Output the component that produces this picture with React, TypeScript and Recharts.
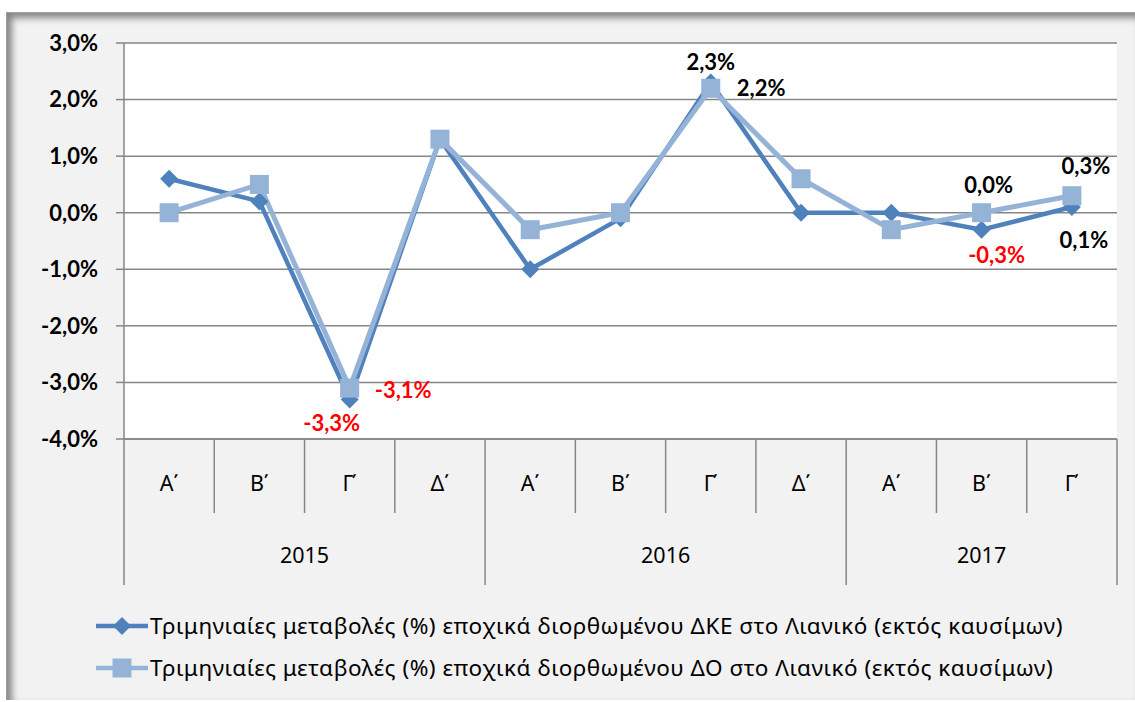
import React from 'react';
import { LineChart, Line, XAxis, YAxis, CartesianGrid, LabelList } from 'recharts';

// ---------- DATA ----------
const quarters = ['Α΄', 'Β΄', 'Γ΄', 'Δ΄', 'Α΄', 'Β΄', 'Γ΄', 'Δ΄', 'Α΄', 'Β΄', 'Γ΄'];
const quarterYear = ['2015', '2015', '2015', '2015', '2016', '2016', '2016', '2016', '2017', '2017', '2017'];
const dkeValues = [0.6, 0.2, -3.3, 1.3, -1.0, -0.1, 2.3, 0.0, 0.0, -0.3, 0.1];
const doValues = [0.0, 0.5, -3.1, 1.3, -0.3, 0.0, 2.2, 0.6, -0.3, 0.0, 0.3];
const yTicks = [-4, -3, -2, -1, 0, 1, 2, 3];
const seriesNames = [
  'Τριμηνιαίες μεταβολές (%) εποχικά διορθωμένου ΔΚΕ στο Λιανικό (εκτός καυσίμων)',
  'Τριμηνιαίες μεταβολές (%) εποχικά διορθωμένου ΔΟ στο Λιανικό (εκτός καυσίμων)',
];
const dkeLabelled = [2, 6, 9, 10];
const doLabelled = [2, 6, 9, 10];

// ---------- LAYOUT / STYLE ----------
const W = 1135;
const H = 702;
const PLOT_LEFT = 124;
const PLOT_RIGHT = 1117;
const PLOT_TOP = 43;
const PLOT_BOTTOM = 439;
const BW = (PLOT_RIGHT - PLOT_LEFT) / quarters.length;
const GRID = '#868686';
const DARK = '#4F81BD';
const LIGHT = '#95B3D7';
const NUMFONT = 'Lato, "Open Sans", sans-serif';
const TXTFONT = '"Noto Sans", "Open Sans", sans-serif';

// label offsets (dx, dy, anchor) per index for each series
const dkeLabelStyle: Record<number, [number, number, string]> = {
  2: [-18, 32, 'middle'],
  6: [0, -13, 'middle'],
  9: [15, 33, 'middle'],
  10: [12, 41, 'middle'],
};
const doLabelStyle: Record<number, [number, number, string]> = {
  2: [25, 10, 'start'],
  6: [26, 8, 'start'],
  9: [7, -20, 'middle'],
  10: [14, -22, 'middle'],
};

const data = quarters.map((q, i) => ({
  key: `${quarterYear[i]}-${q}`,
  q,
  dke: dkeValues[i],
  do: doValues[i],
}));

const fmt = (v: number) => v.toFixed(1).replace('.', ',') + '%';

const Diamond = (props: any) => {
  const { cx, cy } = props;
  if (cx == null || cy == null) return null;
  const r = 9;
  return <path d={`M${cx},${cy - r}L${cx + r},${cy}L${cx},${cy + r}L${cx - r},${cy}Z`} fill={DARK} />;
};
const Square = (props: any) => {
  const { cx, cy } = props;
  if (cx == null || cy == null) return null;
  const r = 9.5;
  return <rect x={cx - r} y={cy - r} width={2 * r} height={2 * r} fill={LIGHT} />;
};

const makeLabel = (labelled: number[], styles: Record<number, [number, number, string]>) => (props: any) => {
  const { x, y, value, index } = props;
  if (!labelled.includes(index)) return null;
  const [dx, dy, anchor] = styles[index] || [0, -15, 'middle'];
  return (
    <text
      x={x + dx}
      y={y + dy}
      textAnchor={anchor as any}
      fontFamily={NUMFONT}
      fontWeight={700}
      fontSize={22}
      fill={value < 0 ? '#FF0000' : '#000000'}
    >
      {fmt(value)}
    </text>
  );
};

const CatTick = (props: any) => {
  const { x, payload } = props;
  const i = payload.index;
  const left = x - BW / 2;
  const yearStart = i === 0 || quarterYear[i] !== quarterYear[i - 1];
  const last = i === quarters.length - 1;
  const count = quarterYear.filter((y) => y === quarterYear[i]).length;
  return (
    <g>
      <line x1={left} x2={left} y1={PLOT_BOTTOM} y2={yearStart ? 585 : 513} stroke={GRID} strokeWidth={1.5} />
      {last && <line x1={x + BW / 2} x2={x + BW / 2} y1={PLOT_BOTTOM} y2={585} stroke={GRID} strokeWidth={1.5} />}
      <text x={x} y={491} textAnchor="middle" fontFamily={TXTFONT} fontSize={21.5} fill="#000">
        {quarters[i]}
      </text>
      {yearStart && (
        <text x={left + (count * BW) / 2} y={563} textAnchor="middle" fontFamily={TXTFONT} fontSize={21.5} fill="#000">
          {quarterYear[i]}
        </text>
      )}
    </g>
  );
};

const LegendRow = ({ idx, top }: { idx: number; top: number }) => (
  <div style={{ position: 'absolute', left: 94, top: top - 16, height: 32, display: 'flex', alignItems: 'center' }}>
    <svg width={56} height={30}>
      <line x1={2} x2={54} y1={15} y2={15} stroke={idx === 0 ? DARK : LIGHT} strokeWidth={4.5} />
      {idx === 0 ? <Diamond cx={28} cy={15} /> : <Square cx={28} cy={15} />}
    </svg>
    <span
      style={{
        fontFamily: TXTFONT,
        fontSize: 22.5,
        letterSpacing: 0.5,
        color: '#000',
        whiteSpace: 'nowrap',
        lineHeight: '32px',
      }}
    >
      {seriesNames[idx]}
    </span>
  </div>
);

export default function App() {
  return (
    <div style={{ position: 'fixed', left: 0, top: 0, width: W, height: H, background: '#fff', overflow: 'hidden' }}>
      <div
        style={{
          position: 'absolute',
          left: 6,
          top: 12,
          width: W - 6,
          height: H - 14,
          background: '#f2f2f2',
          boxShadow: 'inset 5px 5px 7px rgba(0,0,0,0.45)',
          borderLeft: '1px solid #a0a0a0',
          borderTop: '1px solid #a0a0a0',
          boxSizing: 'border-box',
        }}
      />
      <div style={{ position: 'absolute', left: 0, top: 0 }}>
        <LineChart
          width={W}
          height={H}
          data={data}
          margin={{ top: PLOT_TOP, right: W - PLOT_RIGHT, bottom: 0, left: 0 }}
        >
          <CartesianGrid vertical={false} stroke={GRID} strokeWidth={1.5} fill="#ffffff" />
          <XAxis
            dataKey="key"
            scale="band"
            interval={0}
            height={H - PLOT_BOTTOM}
            tickLine={false}
            tickSize={0}
            tickMargin={0}
            axisLine={{ stroke: GRID, strokeWidth: 1.5 }}
            tick={<CatTick />}
          />
          <YAxis
            width={PLOT_LEFT}
            domain={[-4, 3]}
            ticks={yTicks}
            interval={0}
            tickSize={8}
            tickMargin={18}
            tickFormatter={(v: number) => fmt(v)}
            tick={{ fontFamily: NUMFONT, fontSize: 22, fontWeight: 700, fill: '#000' }}
            tickLine={{ stroke: GRID, strokeWidth: 1.5 }}
            axisLine={{ stroke: GRID, strokeWidth: 1.5 }}
          />
          <Line
            dataKey="dke"
            stroke={DARK}
            strokeWidth={4.5}
            dot={<Diamond />}
            activeDot={false}
            isAnimationActive={false}
          >
            <LabelList dataKey="dke" content={makeLabel(dkeLabelled, dkeLabelStyle)} />
          </Line>
          <Line
            dataKey="do"
            stroke={LIGHT}
            strokeWidth={5}
            dot={<Square />}
            activeDot={false}
            isAnimationActive={false}
          >
            <LabelList dataKey="do" content={makeLabel(doLabelled, doLabelStyle)} />
          </Line>
        </LineChart>
      </div>
      <LegendRow idx={0} top={626} />
      <LegendRow idx={1} top={668} />
    </div>
  );
}
